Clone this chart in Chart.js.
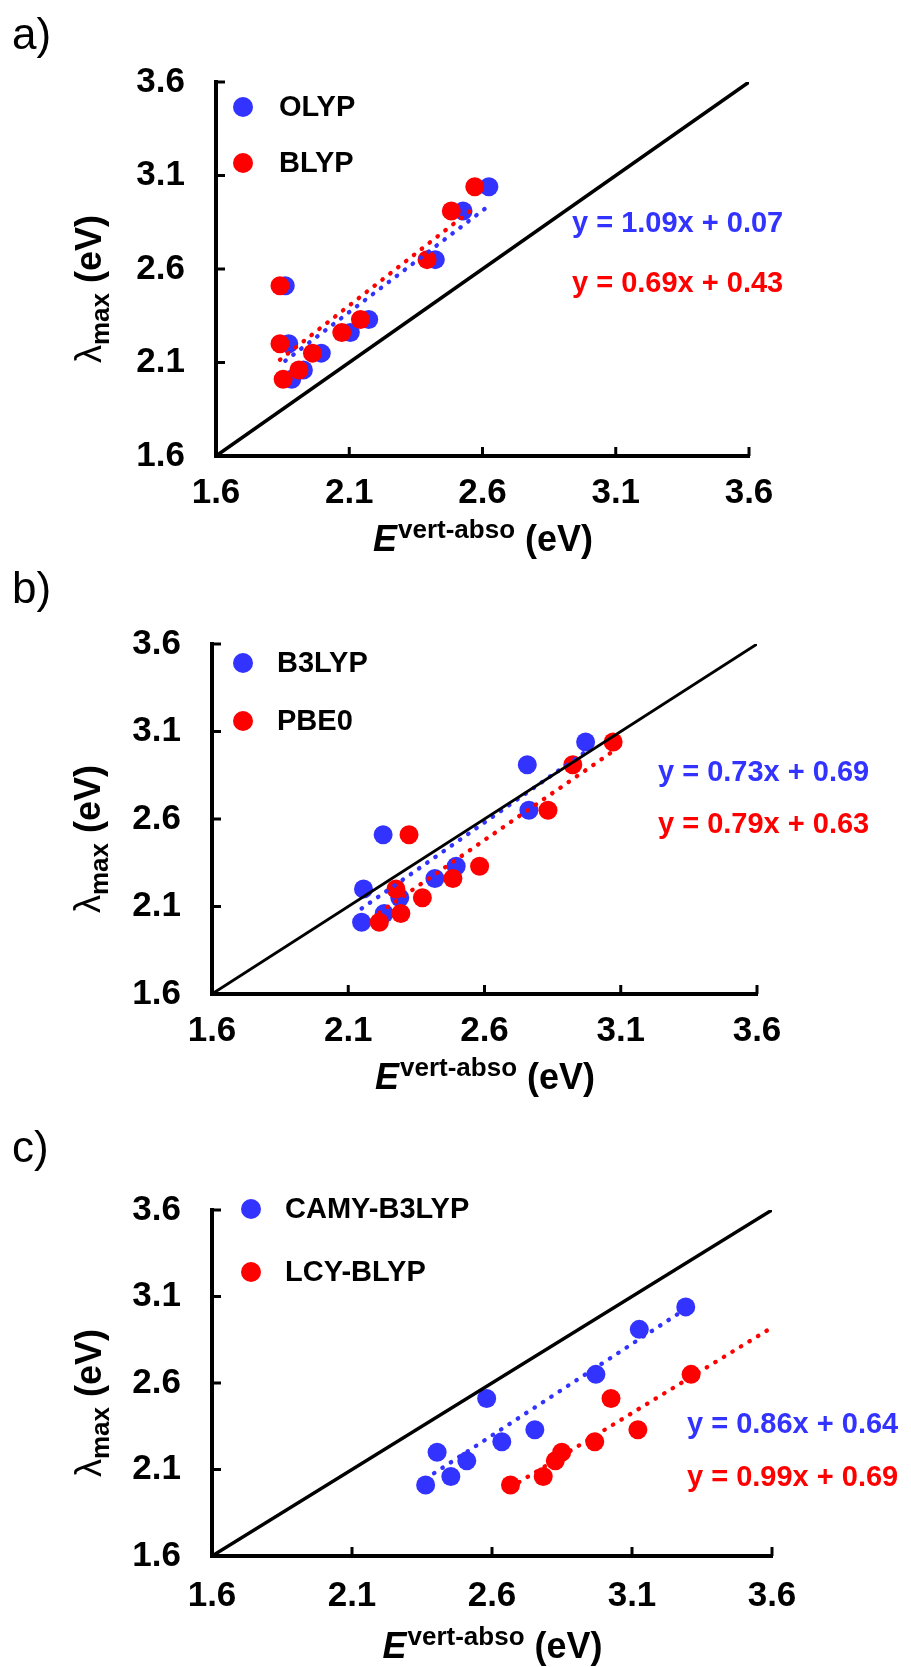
<!DOCTYPE html>
<html>
<head>
<meta charset="utf-8">
<script src="https://cdn.jsdelivr.net/npm/chart.js@4.4.1/dist/chart.umd.min.js"></script>
<style>
  body { margin: 0; background: #fff; width: 911px; height: 1667px; position: relative; overflow: hidden; }
  canvas { position: absolute; left: 0; }
</style>
</head>
<body>
<canvas id="chartA" width="911" height="565" style="top:0px"></canvas>
<canvas id="chartB" width="911" height="540" style="top:565px"></canvas>
<canvas id="chartC" width="911" height="562" style="top:1105px"></canvas>
<script>
// experimental lambda max (eV), same molecules in every panel
var lambdaMax = [2.51, 2.20, 2.01, 2.06, 2.15, 2.26, 2.33, 2.65, 2.91, 3.04];

// computed vertical absorption energies (eV), one per molecule
var olyp      = [1.860, 1.873, 1.884, 1.928, 1.995, 2.104, 2.173, 2.423, 2.527, 2.624];
var blyp      = [1.840, 1.840, 1.852, 1.911, 1.962, 2.072, 2.142, 2.392, 2.483, 2.571];
var b3lyp     = [2.228, 2.156, 2.149, 2.232, 2.289, 2.418, 2.496, 2.763, 2.757, 2.971];
var pbe0      = [2.323, 2.275, 2.214, 2.293, 2.372, 2.484, 2.582, 2.833, 2.924, 3.072];
var camyB3lyp = [2.581, 2.404, 2.363, 2.453, 2.510, 2.635, 2.753, 2.971, 3.126, 3.292];
// last two molecules lie beyond the 3.6 eV axis limit for LCY-BLYP
var lcyBlyp   = [3.025, 2.849, 2.666, 2.783, 2.826, 2.967, 3.121, 3.311];

var axisTicks = [1.6, 2.1, 2.6, 3.1, 3.6];

var namesA = ['OLYP', 'BLYP'];
var namesB = ['B3LYP', 'PBE0'];
var namesC = ['CAMY-B3LYP', 'LCY-BLYP'];

var eqA = ['y = 1.09x + 0.07', 'y = 0.69x + 0.43'];
var eqB = ['y = 0.73x + 0.69', 'y = 0.79x + 0.63'];
var eqC = ['y = 0.86x + 0.64', 'y = 0.99x + 0.69'];

var FONT = '"Liberation Sans", Arial, Helvetica, sans-serif';
var BLUE = '#3333FF';
var RED = '#FF0000';

function toPoints(xs, ys){
  var pts = [];
  for(var i = 0; i < xs.length; i++) pts.push({x: xs[i], y: ys[i]});
  return pts;
}

// least squares trendline, drawn over the x range of the data (or to extendTo)
function trendPoints(xs, ys, extendTo){
  var n = xs.length, mx = 0, my = 0, sxy = 0, sxx = 0;
  for(var i = 0; i < n; i++){ mx += xs[i]; my += ys[i]; }
  mx /= n; my /= n;
  for(var i = 0; i < n; i++){
    sxy += (xs[i] - mx) * (ys[i] - my);
    sxx += (xs[i] - mx) * (xs[i] - mx);
  }
  var m = sxy / sxx, b = my - m * mx;
  var x0 = Math.min.apply(null, xs);
  var x1 = extendTo || Math.max.apply(null, xs);
  return [{x: x0, y: m * x0 + b}, {x: x1, y: m * x1 + b}];
}

function makeDeco(cfg){
  return {
    id: 'deco_' + cfg.id,
    afterDraw: function(chart){
      var ctx = chart.ctx, xs = chart.scales.x, ys = chart.scales.y, a = chart.chartArea;
      ctx.save();

      // inward tick marks
      ctx.strokeStyle = '#000';
      ctx.lineWidth = 3;
      axisTicks.forEach(function(v, i){
        if(i === 0) return;
        var px = xs.getPixelForValue(v), py = ys.getPixelForValue(v);
        ctx.beginPath(); ctx.moveTo(px, a.bottom); ctx.lineTo(px, a.bottom - 9); ctx.stroke();
        ctx.beginPath(); ctx.moveTo(a.left, py); ctx.lineTo(a.left + 9, py); ctx.stroke();
      });

      // legend
      var cols = [BLUE, RED];
      ctx.textAlign = 'left';
      ctx.textBaseline = 'middle';
      ctx.font = 'bold 29px ' + FONT;
      for(var i = 0; i < 2; i++){
        ctx.fillStyle = cols[i];
        ctx.beginPath(); ctx.arc(cfg.legendX, cfg.legendY[i], 10, 0, Math.PI * 2); ctx.fill();
        ctx.fillStyle = '#000';
        ctx.fillText(cfg.names[i], cfg.legendTextX, cfg.legendY[i] + 1);
      }

      // trendline equations
      for(var i = 0; i < 2; i++){
        ctx.fillStyle = cols[i];
        ctx.fillText(cfg.eqs[i], cfg.eqX, cfg.eqY[i]);
      }

      // panel label
      ctx.fillStyle = '#000';
      ctx.textBaseline = 'alphabetic';
      ctx.font = '44px ' + FONT;
      ctx.fillText(cfg.label, 12, cfg.labelY);

      // x title: E^vert-abso (eV)
      var f1 = 'italic bold 36px ' + FONT, f2 = 'bold 26px ' + FONT, f3 = 'bold 36px ' + FONT;
      ctx.font = f1; var w1 = ctx.measureText('E').width;
      ctx.font = f2; var w2 = ctx.measureText('vert-abso').width;
      ctx.font = f3; var w3 = ctx.measureText(' (eV)').width;
      var x = (a.left + a.right) / 2 - (w1 + w2 + w3) / 2;
      ctx.font = f1; ctx.fillText('E', x, cfg.xTitleY);
      ctx.font = f2; ctx.fillText('vert-abso', x + w1 + 1, cfg.xTitleY - 13);
      ctx.font = f3; ctx.fillText(' (eV)', x + w1 + w2 + 1, cfg.xTitleY);

      // y title: lambda_max (eV)
      var g1 = '36px ' + FONT, g2 = 'bold 26px ' + FONT;
      ctx.font = g1; var v1 = ctx.measureText('\u03BB').width;
      ctx.font = g2; var v2 = ctx.measureText('max').width;
      ctx.font = f3; var v3 = ctx.measureText(' (eV)').width;
      ctx.translate(cfg.yTitleX, (a.top + a.bottom) / 2 + 20);
      ctx.rotate(-Math.PI / 2);
      var y0 = -(v1 + v2 + v3) / 2;
      ctx.font = g1; ctx.fillText('\u03BB', y0, 0);
      ctx.font = g2; ctx.fillText('max', y0 + v1, 8);
      ctx.font = f3; ctx.fillText(' (eV)', y0 + v1 + v2, 0);

      ctx.restore();
    }
  };
}

function makePanel(cfg){
  var ar = cfg.area;
  var datasets = [
    {
      type: 'line', data: [{x: 1.6, y: 1.6}, {x: 3.6, y: 3.6}],
      borderColor: '#000', borderWidth: cfg.diagWidth, pointRadius: 0, showLine: true, order: 0
    },
    {
      type: 'line', data: trendPoints(cfg.redX, cfg.redY, cfg.redExtend),
      borderColor: RED, borderWidth: 4.3, borderDash: [0.5, 9.5], borderCapStyle: 'round',
      pointRadius: 0, showLine: true, order: 1
    },
    {
      type: 'line', data: trendPoints(cfg.blueX, cfg.blueY),
      borderColor: BLUE, borderWidth: 4.3, borderDash: [0.5, 9.5], borderCapStyle: 'round',
      pointRadius: 0, showLine: true, order: 1
    },
    {
      type: 'scatter', label: cfg.names[1], data: toPoints(cfg.redX, cfg.redY),
      backgroundColor: RED, borderWidth: 0, pointRadius: 9.5, order: 2
    },
    {
      type: 'scatter', label: cfg.names[0], data: toPoints(cfg.blueX, cfg.blueY),
      backgroundColor: BLUE, borderWidth: 0, pointRadius: 9.5, order: 3
    }
  ];
  var tickFont = {family: FONT, size: 35, weight: 'bold'};
  new Chart(document.getElementById(cfg.id), {
    type: 'scatter',
    data: {datasets: datasets},
    options: {
      responsive: false,
      animation: false,
      devicePixelRatio: 1,
      events: [],
      layout: {padding: {left: 0, top: ar.top, right: 911 - ar.right, bottom: 0}},
      plugins: {legend: {display: false}, tooltip: {enabled: false}},
      scales: {
        x: {
          type: 'linear', min: 1.6, max: 3.6,
          afterBuildTicks: function(s){ s.ticks = axisTicks.map(function(v){ return {value: v}; }); },
          afterFit: function(s){ s.height = ar.height - ar.bottom; },
          grid: {display: false, drawTicks: false},
          border: {display: true, color: '#000', width: 4},
          ticks: {color: '#000', font: tickFont, padding: cfg.xPad, maxRotation: 0,
                  callback: function(v){ return v.toFixed(1); }}
        },
        y: {
          type: 'linear', min: 1.6, max: 3.6,
          afterBuildTicks: function(s){ s.ticks = axisTicks.map(function(v){ return {value: v}; }); },
          afterFit: function(s){ s.width = ar.left; },
          grid: {display: false, drawTicks: false},
          border: {display: true, color: '#000', width: 4},
          ticks: {color: '#000', font: tickFont, padding: 31,
                  callback: function(v){ return v.toFixed(1); }}
        }
      }
    },
    plugins: [makeDeco(cfg)]
  });
}

makePanel({
  id: 'chartA', names: namesA, eqs: eqA, label: 'a)', labelY: 49,
  blueX: olyp, blueY: lambdaMax, redX: blyp, redY: lambdaMax,
  area: {left: 216, right: 749, top: 82, bottom: 456, height: 565},
  diagWidth: 3.5, xPad: 16,
  legendX: 243, legendTextX: 279, legendY: [107, 163],
  eqX: 572, eqY: [224, 284], xTitleY: 551, yTitleX: 101
});

makePanel({
  id: 'chartB', names: namesB, eqs: eqB, label: 'b)', labelY: 38,
  blueX: b3lyp, blueY: lambdaMax, redX: pbe0, redY: lambdaMax,
  area: {left: 212, right: 757, top: 79, bottom: 429, height: 540},
  diagWidth: 2.8, xPad: 16,
  legendX: 243, legendTextX: 277, legendY: [98, 156],
  eqX: 658, eqY: [208, 260], xTitleY: 524, yTitleX: 100
});

makePanel({
  id: 'chartC', names: namesC, eqs: eqC, label: 'c)', labelY: 57,
  blueX: camyB3lyp, blueY: lambdaMax, redX: lcyBlyp, redY: lambdaMax.slice(0, lcyBlyp.length), redExtend: 3.6,
  area: {left: 212, right: 772, top: 105, bottom: 451, height: 562},
  diagWidth: 3.5, xPad: 19,
  legendX: 251, legendTextX: 285, legendY: [104, 167],
  eqX: 687, eqY: [320, 373], xTitleY: 553, yTitleX: 101
});
</script>
</body>
</html>
